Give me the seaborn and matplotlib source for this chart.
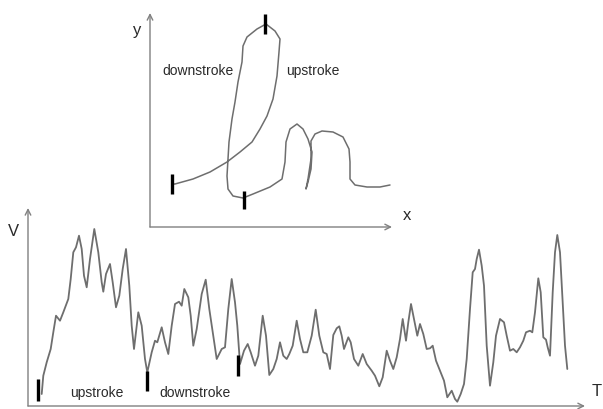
import matplotlib
matplotlib.use("Agg")
import matplotlib.pyplot as plt
import seaborn as sns
import pandas as pd

sns.set_theme(style="white")
plt.rcParams['font.family'] = ['Liberation Sans', 'DejaVu Sans']

# Velocity profile V(T)
T = [41.7, 43.3, 46.7, 50.7, 53.3, 56, 60, 63.3, 68.3, 70.7, 73.3, 76, 79, 81.7, 84, 86.7, 90,
     94.3, 98.3, 101.7, 103.3, 106, 110, 112.7, 116, 119.3, 122.7, 126, 129.3, 131.7, 134,
     138.3, 141.7, 145, 147.3, 151.7, 155, 157.3, 161.7, 165, 168.3, 171.7, 175, 179, 181.7,
     184.3, 188.3, 190.7, 193.3, 196.7, 201.7, 205.7, 209.3, 213.3, 216.7, 221.7, 225, 228.3,
     231.7, 235, 237.3, 240, 244, 247.7, 250.7, 255, 258.3, 262.7, 266, 269.3, 273.3, 276.7,
     280, 283.3, 286.7, 289.3, 292.7, 296.7, 300, 303.3, 307.3, 311.7, 315.7, 319.3, 323.3,
     326.7, 330, 333.3, 336.7, 339.3, 341.7, 344, 348.3, 350.7, 354, 358.3, 362.7, 366.7,
     371.7, 375, 379.3, 382.7, 386.7, 390, 393.3, 396.7, 400, 402.7, 406, 408.3, 411, 414,
     417.3, 420, 423.3, 426.7, 430, 432.7, 436, 440, 444, 447.3, 451.7, 455, 457.3, 460.7,
     464, 466.7, 470, 472.7, 475, 476.7, 479, 481.7, 484, 486.7, 490, 493.3, 496, 500, 504,
     506.7, 510, 513.3, 516.7, 520, 523.3, 526, 530, 532.3, 535, 538.3, 540.7, 543.3, 546,
     547.7, 550, 552.7, 555, 557.3, 560, 562.7, 565, 567.3]
V = [12, 30.3, 43.7, 57, 73.7, 90.3, 85.3, 93.7, 107, 127, 153.7, 158.7, 170.3, 157, 130.3, 118.7, 147,
     177, 153.7, 123.7, 114.3, 132, 142, 123.7, 98.7, 110.3, 137, 157, 120.3, 80.3, 57,
     93.7, 80.3, 47, 33.7, 53.7, 65.3, 63.7, 78.7, 63.7, 52, 80.3, 102, 104.3, 100.3,
     117, 108.7, 90.3, 60.3, 77, 112, 126.3, 97, 70.3, 47, 57, 58.7, 97,
     127, 103.7, 80.3, 42, 55.3, 62, 53.7, 40.3, 50.3, 90.3, 70.3, 31, 37, 47,
     63.7, 50.3, 47, 52, 60.3, 85.3, 67, 53.7, 53.7, 70.3, 96.3, 70.3, 53.7,
     52, 37, 71, 77.7, 79.7, 70.3, 57, 68.7, 63.7, 47, 40.3, 52, 42,
     35.3, 30.3, 19.7, 28.7, 55.3, 45.3, 37, 48.7, 67, 87, 65.3, 83.7, 102, 87,
     70.3, 82, 72, 57, 57.7, 60.3, 45.3, 35.3, 25.3, 8.7, 15.3, 7, 4.3, 12,
     22, 47, 97, 133.7, 137, 147, 156.3, 140.3, 120.3, 60.3, 20.3, 43.7, 70.3, 87, 83.7,
     70.3, 55.3, 57, 53.7, 58.7, 65.3, 73.7, 75.3, 73.7, 93.7, 127.7, 113.7, 68.7, 66.3,
     58.7, 50.3, 113.7, 153.7, 171, 153.7, 103.7, 60.3, 37]

# Handwriting trajectory (x, y), read in pixel space then shifted to the axes origin
traj_x_px = [172, 175, 193, 210, 227, 240, 252, 260, 267, 273, 277, 279, 280, 275, 266, 257, 247,
             243, 242, 238, 235, 232, 229, 228, 227, 228, 233, 243, 253, 270, 282, 285, 286, 290,
             297, 303, 308, 312, 311, 308, 306, 308, 311, 311, 315, 322, 333, 343, 349, 350, 350,
             355, 367, 380, 390]
traj_y_px = [185, 185, 180, 173, 163, 153, 143, 130, 117, 100, 77, 53, 40, 32, 25, 30, 38,
             47, 63, 83, 103, 120, 143, 160, 177, 190, 197, 199, 195, 188, 180, 163, 143, 130,
             125, 130, 140, 153, 170, 183, 190, 180, 160, 142, 135, 132, 133, 138, 150, 163, 180,
             186, 188, 188, 186]
X = [v - 150 for v in traj_x_px]
Y = [228 - v for v in traj_y_px]

# Segment boundary marks
v_mark_T = [38.3, 147.3, 238.3]
v_mark_lo = [5.3, 15.3, 30.3]
v_mark_hi = [27, 35.3, 51]
xy_mark_x = [22, 94, 115]
xy_mark_lo = [33, 18, 193]
xy_mark_hi = [53, 36, 213]

W, H = 603, 410
fig = plt.figure(figsize=(W / 100, H / 100), dpi=100)
fig.patch.set_facecolor('white')

line_col = '#6e6e6e'
axis_col = '#808080'
text_col = '#2a2a2a'

# ---- velocity panel ----
ax = fig.add_axes([0, 0, 1, 1])
ax.set_xlim(0, W)
ax.set_ylim(-3, H - 3)
ax.axis('off')
dv = pd.DataFrame({'T': T, 'V': V})
sns.lineplot(data=dv, x='T', y='V', sort=False, estimator=None, errorbar=None, ax=ax,
             color=line_col, lw=1.3, solid_joinstyle='round', solid_capstyle='round')
ax.vlines(v_mark_T, v_mark_lo, v_mark_hi, color='black', lw=2.4)
arr = dict(arrowstyle='->', color=axis_col, lw=1.0, shrinkA=0, shrinkB=0,
           mutation_scale=10)
ax.annotate('', xy=(28, 198), xytext=(28, 0), arrowprops=arr)
ax.annotate('', xy=(585, 0), xytext=(28, 0), arrowprops=arr)
ax.text(13, 175, 'V', fontsize=12, color=text_col, ha='center', va='center')
ax.text(597, 15, 'T', fontsize=12, color=text_col, ha='center', va='center')
ax.text(97, 14, 'upstroke', fontsize=10, color=text_col, ha='center', va='center')
ax.text(195, 14, 'downstroke', fontsize=10, color=text_col, ha='center', va='center')

# ---- trajectory panel ----
ax2 = fig.add_axes([0, 0, 1, 1])
ax2.patch.set_alpha(0)
ax2.set_xlim(-150, W - 150)
ax2.set_ylim(228 - H, 228)
ax2.axis('off')
dxy = pd.DataFrame({'x': X, 'y': Y})
sns.lineplot(data=dxy, x='x', y='y', sort=False, estimator=None, errorbar=None, ax=ax2,
             color=line_col, lw=1.1, solid_joinstyle='round', solid_capstyle='round')
ax2.vlines(xy_mark_x, xy_mark_lo, xy_mark_hi, color='black', lw=2.4)
ax2.annotate('', xy=(0, 214), xytext=(0, 0), arrowprops=arr)
ax2.annotate('', xy=(242, 0), xytext=(0, 0), arrowprops=arr)
ax2.text(-13, 198, 'y', fontsize=12, color=text_col, ha='center', va='center')
ax2.text(257, 12, 'x', fontsize=12, color=text_col, ha='center', va='center')
ax2.text(48, 157, 'downstroke', fontsize=10, color=text_col, ha='center', va='center')
ax2.text(163, 157, 'upstroke', fontsize=10, color=text_col, ha='center', va='center')

fig.savefig('out.png', dpi=100, facecolor='white')
